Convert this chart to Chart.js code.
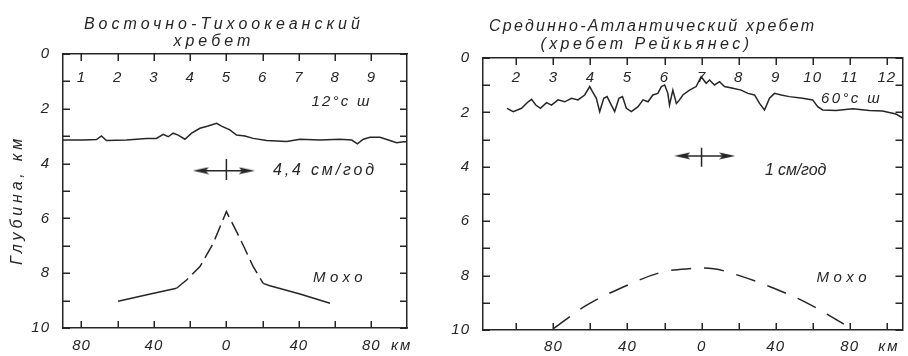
<!DOCTYPE html>
<html><head><meta charset="utf-8">
<script src="https://cdn.jsdelivr.net/npm/chart.js@4/dist/chart.umd.min.js"></script>
<style>
html,body{margin:0;padding:0;background:#fff;}
#wrap{position:relative;width:908px;height:356px;overflow:hidden;background:#fff;}
canvas{position:absolute;top:0;}
#c1{left:0;} #c2{left:450px;}
</style></head><body>
<div id="wrap"><canvas id="c1" width="450" height="356"></canvas><canvas id="c2" width="458" height="356"></canvas></div>
<script>
// ===== DATA =====
// depth axis (km)
const depthTicks  = [0,1,2,3,4,5,6,7,8,9,10];
const depthLabels = ['0','','2','','4','','6','','8','','10'];

// --- East Pacific Rise, 12° N (left panel) ---
const eprTickKm        = [-80,-60,-40,-20,0,20,40,60,80];
const eprBottomLabels  = ['80','','40','','0','','40','','80'];
const eprProfileNumbers= ['1','2','3','4','5','6','7','8','9'];
const eprTopoKm    = [-90.2,-79.1,-71.7,-69,-66.2,-55.1,-44.1,-38.6,-34.9,-32.1,-29.4,-26.6,-22.9,-19.2,-14.6,-10.1,-5.4,-2.7,1.9,5.6,10.2,14.8,22.2,33.3,40.6,51.7,62.7,69.2,72.3,75.6,79.3,84.8,89.4,94,97.7,99.7];
const eprTopoDepth = [3.14,3.14,3.12,2.99,3.16,3.14,3.08,3.08,2.93,3.02,2.89,2.96,3.11,2.89,2.71,2.63,2.53,2.63,2.77,2.96,2.99,3.08,3.16,3.19,3.11,3.14,3.11,3.14,3.28,3.11,3.04,3.04,3.14,3.24,3.2,3.2];
const eprMohoKm    = [-59.8,-42,-27.5,-22,-14.6,-7.3,0,7.5,14.8,20.3,24,40.6,57.2];
const eprMohoDepth = [9.02,8.76,8.55,8.25,7.76,6.91,5.75,6.73,7.76,8.37,8.46,8.76,9.1];
const eprArrowKm   = [-14.1, 11.3];
const eprArrowDepth= [4.26, 4.26];
const eprBarKm     = [0, 0];
const eprBarDepth  = [3.83, 4.6];

// --- Mid-Atlantic Ridge, Reykjanes, 60° N (right panel) ---
const marTickKm        = [-100,-80,-60,-40,-20,0,20,40,60,80,100];
const marBottomLabels  = ['','80','','40','','0','','40','','80',''];
const marProfileNumbers= ['2','3','4','5','6','7','8','9','10','11','12'];
const marTopoKm    = [-105,-101.7,-97.2,-93.6,-91.8,-89.5,-87,-83.7,-81,-77.5,-73.9,-70.2,-66.7,-63.1,-60.4,-58.9,-56.8,-55,-52.8,-51,-48.7,-46.9,-44.6,-42.7,-40.6,-37.9,-34.3,-31.6,-28.9,-26.3,-23.6,-21.7,-19.9,-18.2,-17.3,-15.5,-13.6,-11.9,-10.1,-6.5,-2.9,-0.2,2.5,4.3,7,9.7,12.4,16.9,21.4,25,28.6,31.3,34,36.7,39.4,43,47.4,54.6,60,62.7,65.4,72.6,81.6,90.6,97.7,105,108.5];
const marTopoDepth = [1.85,1.97,1.85,1.61,1.52,1.73,1.85,1.64,1.73,1.54,1.61,1.48,1.54,1.36,1.05,1.24,1.48,1.97,1.48,1.42,1.73,1.97,1.48,1.42,1.85,1.97,1.79,1.54,1.61,1.36,1.3,1.05,0.99,1.3,1.73,1.18,1.67,1.54,1.36,1.18,1.05,0.69,0.93,0.81,0.99,0.87,1.05,1.11,1.18,1.3,1.36,1.67,1.91,1.48,1.3,1.36,1.42,1.48,1.54,1.79,1.91,1.93,1.87,1.93,1.95,2.06,2.2];
const marMohoKm    = [-79.8,-61.8,-42,-22.3,-7,6.5,20.8,37,56.8,79.2];
const marMohoDepth = [9.94,9.08,8.41,7.89,7.75,7.75,8.01,8.41,9.0,9.88];
const marArrowKm   = [-10.4, 13.9];
const marArrowDepth= [3.6, 3.6];
const marBarKm     = [0, 0];
const marBarDepth  = [3.3, 4.0];

// ===== STYLE / LAYOUT =====
const INK = '#262626';
const FONT = "'Liberation Sans', 'DejaVu Sans', sans-serif";
const TICK = 7;

function pts(xs, ys){ return xs.map((x,i)=>({x:x, y:ys[i]})); }

function arrowHead(){
  const c = document.createElement('canvas'); c.width = 16; c.height = 8;
  const g = c.getContext('2d'); g.fillStyle = INK;
  g.beginPath(); g.moveTo(16,4); g.lineTo(0,0.6); g.lineTo(3,4); g.lineTo(0,7.4); g.closePath(); g.fill();
  return c;
}
const HEAD = arrowHead();

// inward tick marks on all four sides of the frame, placed by the chart's own scales
function innerTicksPlugin(xVals, yVals){
  return {
    id: 'innerTicks',
    afterDraw(chart){
      const ctx = chart.ctx, a = chart.chartArea, xs = chart.scales.x, ys = chart.scales.y;
      ctx.save();
      ctx.strokeStyle = INK; ctx.lineWidth = 1.5; ctx.setLineDash([]);
      ctx.beginPath();
      for (const v of xVals){
        const px = Math.round(xs.getPixelForValue(v)) + 0.25;
        ctx.moveTo(px, a.bottom); ctx.lineTo(px, a.bottom - TICK);
        ctx.moveTo(px, a.top);    ctx.lineTo(px, a.top + TICK);
      }
      for (const v of yVals){
        const py = Math.round(ys.getPixelForValue(v)) + 0.25;
        ctx.moveTo(a.left, py);  ctx.lineTo(a.left + TICK, py);
        ctx.moveTo(a.right, py); ctx.lineTo(a.right - TICK, py);
      }
      ctx.stroke();
      ctx.restore();
    }
  };
}

function textPlugin(items){
  return {
    id: 'texts',
    beforeDraw(chart){ chart.ctx.letterSpacing = '1px'; },
    afterDraw(chart){
      const ctx = chart.ctx, xs = chart.scales.x, ys = chart.scales.y;
      ctx.save();
      ctx.fillStyle = INK; ctx.textBaseline = 'middle';
      for (const it of items){
        ctx.font = 'italic ' + it.size + 'px ' + FONT;
        ctx.letterSpacing = '0px';
        const w0 = ctx.measureText(it.text).width;
        const n = Array.from(it.text).length;
        const sp = (it.w - w0) / n;
        ctx.letterSpacing = sp.toFixed(2) + 'px';
        ctx.save();
        ctx.translate(xs.getPixelForValue(it.x), ys.getPixelForValue(it.y));
        if (it.rot) ctx.rotate(it.rot * Math.PI / 180);
        ctx.textAlign = it.align || 'left';
        ctx.fillText(it.text, it.align === 'center' ? sp/2 : 0, 0);
        ctx.restore();
      }
      ctx.restore();
      ctx.letterSpacing = '0px';
    }
  };
}

function makeChart(id, c){
  const tickFont = () => ({family: FONT, style: 'italic', size: 15});
  const setTicks = vals => s => { s.ticks = vals.map(v => ({value: v})); };
  const line = {showLine: true, borderColor: INK, borderWidth: 1.5, pointRadius: 0};
  const noGrid = {display: false, drawTicks: false, tickLength: 0};
  const frame = () => ({display: true, color: INK, width: 1.5});
  return new Chart(document.getElementById(id), {
    type: 'scatter',
    data: { datasets: [
      Object.assign({}, line, {data: pts(c.topoKm, c.topoDepth), tension: 0}),
      Object.assign({}, line, {data: pts(c.mohoKm, c.mohoDepth), tension: c.mohoTension,
        segment: { borderDash: ctx => (ctx.p0.parsed.x >= c.dashFrom - 0.01 && ctx.p1.parsed.x <= c.dashTo + 0.01) ? c.dash : undefined }}),
      Object.assign({}, line, {data: pts(c.arrowKm, c.arrowDepth), pointStyle: HEAD, pointRotation: [180, 0], pointRadius: 4}),
      Object.assign({}, line, {data: pts(c.barKm, c.barDepth)})
    ]},
    options: {
      responsive: false, animation: false, events: [],
      layout: {padding: c.pad},
      plugins: {legend: {display: false}, tooltip: {enabled: false}, title: {display: false}},
      scales: {
        x: {type: 'linear', display: true, position: 'bottom', min: c.range[0], max: c.range[1],
            afterBuildTicks: setTicks(c.ticks), afterFit: s => { s.height = c.bottomH; },
            grid: noGrid, border: frame(),
            ticks: {font: tickFont(), color: INK, padding: c.bottomPad, autoSkip: false, maxRotation: 0, minRotation: 0,
                    callback: (v, i) => c.bottomLabels[i]}},
        xTop: {type: 'linear', axis: 'x', display: true, position: 'top', min: c.range[0], max: c.range[1],
            afterBuildTicks: setTicks(c.ticks), afterFit: s => { s.height = 0; },
            grid: noGrid, border: frame(),
            ticks: {font: tickFont(), color: INK, padding: c.topPad, mirror: true, autoSkip: false, maxRotation: 0, minRotation: 0,
                    callback: (v, i) => c.profileNumbers[i]}},
        y: {type: 'linear', display: true, position: 'left', reverse: true, min: 0, max: 10,
            afterBuildTicks: setTicks(depthTicks), afterFit: s => { s.width = c.leftW; },
            grid: noGrid, border: frame(),
            ticks: {font: tickFont(), color: INK, padding: 13, autoSkip: false, callback: (v, i) => depthLabels[i]}},
        yRight: {type: 'linear', axis: 'y', display: true, position: 'right', reverse: true, min: 0, max: 10,
            afterFit: s => { s.width = 0; },
            grid: noGrid, border: frame(), ticks: {display: false}}
      }
    },
    plugins: [innerTicksPlugin(c.ticks, depthTicks), textPlugin(c.texts)]
  });
}

makeChart('c1', {
  range: [-90.2, 99.7], ticks: eprTickKm, bottomLabels: eprBottomLabels, profileNumbers: eprProfileNumbers,
  topoKm: eprTopoKm, topoDepth: eprTopoDepth, mohoKm: eprMohoKm, mohoDepth: eprMohoDepth,
  mohoTension: 0, dashFrom: -27.5, dashTo: 20.3, dash: [15, 6],
  arrowKm: eprArrowKm, arrowDepth: eprArrowDepth, barKm: eprBarKm, barDepth: eprBarDepth,
  pad: {left: 0, right: 43, top: 54, bottom: 0}, leftW: 63, bottomH: 28, bottomPad: 9, topPad: 14.5,
  texts: [
    {text: 'Восточно-Тихоокеанский', x: -2.5, y: -1.09, align: 'center', size: 16, w: 280},
    {text: 'хребет', x: -8, y: -0.47, align: 'center', size: 16, w: 81},
    {text: '12°с ш', x: 47, y: 1.74, size: 15, w: 60},
    {text: '4,4 см/год', x: 25.7, y: 4.27, size: 16, w: 104},
    {text: 'Мохо', x: 47.8, y: 8.18, size: 15, w: 54},
    {text: 'км', x: 90.9, y: 10.66, size: 15, w: 21},
    {text: 'Глубина, км', x: -115.2, y: 5.4, align: 'center', size: 16, w: 130, rot: -90}
  ]
});

makeChart('c2', {
  range: [-118, 108.5], ticks: marTickKm, bottomLabels: marBottomLabels, profileNumbers: marProfileNumbers,
  topoKm: marTopoKm, topoDepth: marTopoDepth, mohoKm: marMohoKm, mohoDepth: marMohoDepth,
  mohoTension: 0.35, dashFrom: -1000, dashTo: 1000, dash: [20, 13],
  arrowKm: marArrowKm, arrowDepth: marArrowDepth, barKm: marBarKm, barDepth: marBarDepth,
  pad: {left: 0, right: 5, top: 58, bottom: 0}, leftW: 33, bottomH: 26, bottomPad: 8, topPad: 11,
  texts: [
    {text: 'Срединно-Атлантический хребет', x: -27, y: -1.14, align: 'center', size: 16, w: 327},
    {text: '(хребет Рейкьянес)', x: -30.7, y: -0.51, align: 'center', size: 16, w: 212},
    {text: '60°с ш', x: 64.5, y: 1.51, size: 15, w: 61},
    {text: '1 см/год', x: 34.3, y: 4.12, size: 16, w: 61},
    {text: 'Мохо', x: 62, y: 8.09, size: 15, w: 55},
    {text: 'км', x: 95.4, y: 10.62, size: 15, w: 21}
  ]
});
</script>
</body></html>
